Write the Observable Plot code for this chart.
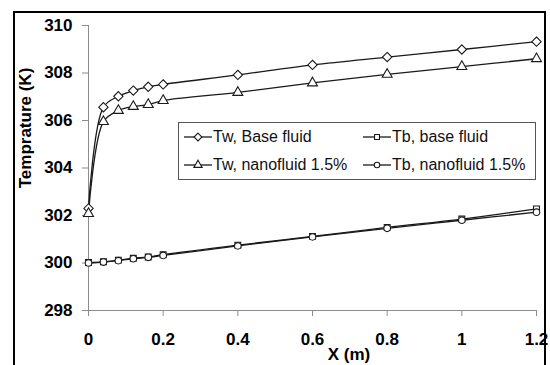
<!DOCTYPE html>
<html><head><meta charset="utf-8">
<script src="https://cdn.jsdelivr.net/npm/d3@7"></script>
<script src="https://cdn.jsdelivr.net/npm/@observablehq/plot@0.6"></script>
<style>
body{margin:0;background:#fff;}
#wrap{position:relative;width:550px;height:365px;overflow:hidden;}
#frame{position:absolute;left:13px;top:11px;width:533px;height:400px;border:2px solid #000;box-sizing:border-box;}
#legend{position:absolute;left:178px;top:122px;width:358px;height:58px;border:1px solid #555;box-sizing:border-box;background:#fff;font-family:"Liberation Sans",Arial,sans-serif;font-size:16px;color:#111;}
.item{position:absolute;display:flex;align-items:center;white-space:nowrap;}
.item svg{display:block;}
.axlabel{position:absolute;font-family:"Liberation Sans",Arial,sans-serif;font-size:17px;font-weight:bold;color:#000;white-space:nowrap;line-height:17px;}
#ylab{left:25px;top:128px;transform:translate(-50%,-50%) rotate(-90deg);}
#xlab{left:349px;top:346px;transform:translateX(-50%);}
</style></head>
<body><div id="wrap"><div id="frame"></div></div>
<script>
const xs = [0, 0.04, 0.08, 0.12, 0.16, 0.2, 0.4, 0.6, 0.8, 1.0, 1.2];
const twBase = [302.3, 306.56, 307.02, 307.26, 307.42, 307.52, 307.92, 308.34, 308.67, 308.99, 309.32];
const twNano = [302.08, 305.95, 306.42, 306.59, 306.67, 306.84, 307.18, 307.58, 307.94, 308.27, 308.6];
const tbBase = [300.02, 300.05, 300.12, 300.2, 300.25, 300.35, 300.75, 301.12, 301.5, 301.85, 302.28];
const tbNano = [300.0, 300.04, 300.1, 300.18, 300.24, 300.32, 300.72, 301.1, 301.46, 301.8, 302.14];
const seriesNames = ["Tw, Base fluid", "Tb, base fluid", "Tw, nanofluid 1.5%", "Tb, nanofluid 1.5%"];
const symbols = ["diamond2", "square", "triangle", "circle"];
const radii = [4.2, 3.3, 3.7, 3.3];
const yTicks = [298, 300, 302, 304, 306, 308, 310];
const xTicks = [0, 0.2, 0.4, 0.6, 0.8, 1, 1.2];
const yLabel = "Temprature (K)";
const xLabel = "X (m)";

const allY = [twBase, tbBase, twNano, tbNano];
const rows = [];
allY.forEach((arr, i) => arr.forEach((v, j) => rows.push({x: xs[j], y: v, s: seriesNames[i], i})));

const marks = [
  Plot.ruleY([298], {stroke: "#8c8c8c"}),
  Plot.ruleX([0], {stroke: "#8c8c8c"}),
  Plot.axisY({ticks: yTicks, tickSize: 6, tickPadding: 10, stroke: "#8c8c8c", label: null, tickFormat: d => String(d)}),
  Plot.axisX({ticks: xTicks, tickSize: 6, tickPadding: 16, stroke: "#8c8c8c", label: null, tickFormat: d => String(d)}),
];
seriesNames.forEach((name, i) => {
  const d = rows.filter(r => r.i === i);
  marks.push(Plot.line(d, {x: "x", y: "y", curve: "catmull-rom", stroke: "#1a1a1a", strokeWidth: 1.3}));
});
seriesNames.forEach((name, i) => {
  const d = rows.filter(r => r.i === i);
  marks.push(Plot.dot(d, {x: "x", y: "y", symbol: () => symbols[i], r: radii[i], stroke: "#1a1a1a", strokeWidth: 1.1, fill: "white"}));
});

const chart = Plot.plot({
  width: 550, height: 365,
  marginLeft: 88, marginRight: 14, marginTop: 25, marginBottom: 55,
  x: {domain: [0, 1.2]},
  y: {domain: [298, 310]},
  style: {fontFamily: "Liberation Sans, Arial, sans-serif", fontSize: "17px", fontWeight: "bold", color: "#000", background: "transparent", overflow: "visible"},
  marks
});
chart.style.position = "absolute";
chart.style.left = "0"; chart.style.top = "0";
const wrap = document.getElementById("wrap");
wrap.appendChild(chart);

const yl = document.createElement("div"); yl.id = "ylab"; yl.className = "axlabel"; yl.textContent = yLabel; wrap.appendChild(yl);
const xl = document.createElement("div"); xl.id = "xlab"; xl.className = "axlabel"; xl.textContent = xLabel; wrap.appendChild(xl);

// legend
const legend = document.createElement("div");
legend.id = "legend";
const pos = [[4, 4], [183, 4], [4, 32], [183, 32]];
const symMap = {diamond2: d3.symbolDiamond2, square: d3.symbolSquare, triangle: d3.symbolTriangle, circle: d3.symbolCircle};
seriesNames.forEach((name, i) => {
  const it = document.createElement("div");
  it.className = "item";
  it.style.left = pos[i][0] + "px"; it.style.top = pos[i][1] + "px";
  const s = d3.create("svg").attr("width", 30).attr("height", 20);
  s.append("line").attr("x1", 1).attr("x2", 29).attr("y1", 10).attr("y2", 10).attr("stroke", "#1a1a1a").attr("stroke-width", 1.3);
  s.append("path").attr("transform", "translate(15,10)")
    .attr("d", d3.symbol(symMap[symbols[i]], Math.PI * radii[i] * radii[i] * 0.7)())
    .attr("fill", "white").attr("stroke", "#1a1a1a").attr("stroke-width", 1.1);
  it.appendChild(s.node());
  const t = document.createElement("span");
  t.textContent = name;
  it.appendChild(t);
  legend.appendChild(it);
});
wrap.appendChild(legend);
</script>
</body></html>
